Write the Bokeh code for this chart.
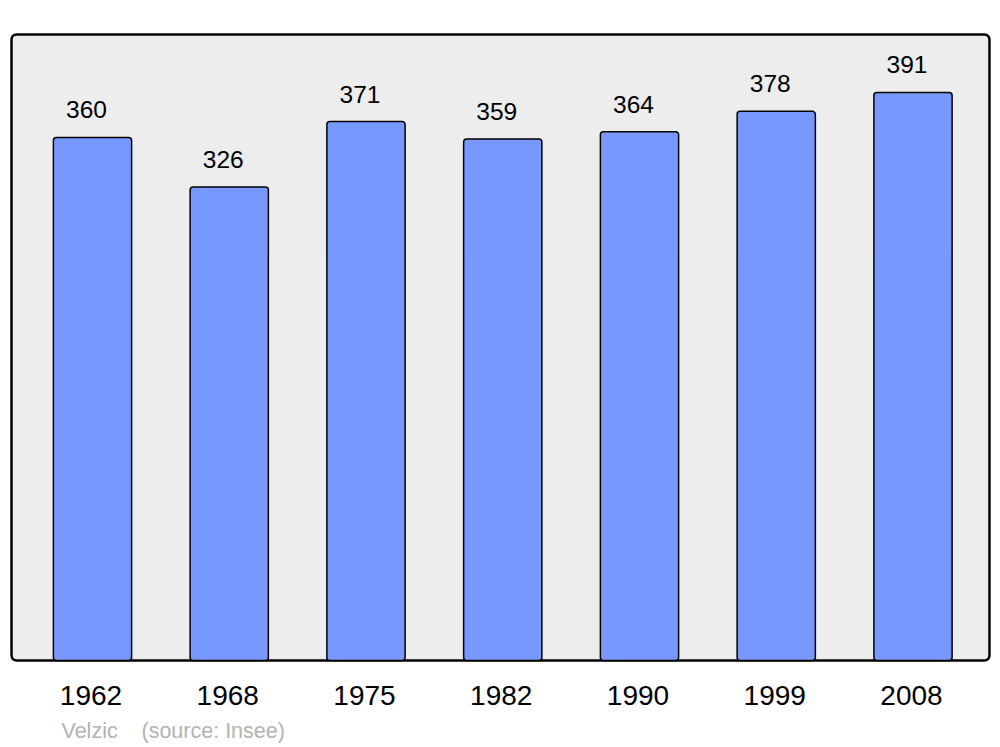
from bokeh.plotting import figure
from bokeh.models import Range1d, Label
from bokeh.embed import file_html
from bokeh.resources import INLINE
from bokeh.core.properties import value

years = ["1962", "1968", "1975", "1982", "1990", "1999", "2008"]
population = [360, 326, 371, 359, 364, 378, 391]
commune = "Velzic"
source = "(source: Insee)"

xs = list(range(len(years)))

W, H = 1000, 747
p = figure(width=W, height=H, output_backend="svg", toolbar_location=None,
           x_range=Range1d(-0.6728, 6.6399), y_range=Range1d(-59.89, 454.3),
           min_border_left=0, min_border_right=0, min_border_top=0, min_border_bottom=0)
p.background_fill_color = "white"
p.border_fill_color = "white"
p.outline_line_color = None
p.grid.visible = False
p.axis.visible = False

# panel background
p.quad(left=[-0.5923], right=[6.5594], bottom=[0], top=[430.9],
       fill_color="#ededed", line_color="black", line_width=2.5, border_radius=5)

p.vbar(x=xs, width=0.572, top=population, bottom=0, fill_color="#7799ff",
       line_color="black", line_width=1.5, border_radius=3)

p.text(x=xs, y=population, text=[str(v) for v in population], text_align="center",
       text_baseline="middle", y_offset=-27.5, x_offset=-6,
       text_font=value("Liberation Sans"), text_font_size="24.5px", text_color="black")

# category (year) labels under the bars
p.text(x=xs, y=[0] * len(xs), text=years, text_align="center",
       text_baseline="middle", y_offset=35, x_offset=-1.5,
       text_font=value("Liberation Sans"), text_font_size="28px", text_color="black")

p.add_layout(Label(x=61, y=730, x_units="canvas", y_units="canvas", text=commune,
                   text_font="Liberation Sans", text_font_size="21.5px",
                   text_color="#b3b3b3", text_baseline="middle"))
p.add_layout(Label(x=141, y=730, x_units="canvas", y_units="canvas", text=source,
                   text_font="Liberation Sans", text_font_size="21.5px",
                   text_color="#b3b3b3", text_baseline="middle"))

open("out.html", "w").write(file_html(p, INLINE))
